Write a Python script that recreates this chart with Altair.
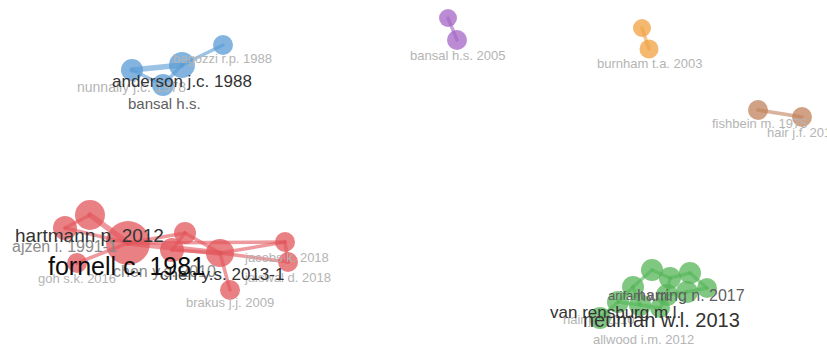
import math
import altair as alt
import pandas as pd

# ---- nodes (layout coordinates, weight, cluster) ----
node_id = ["b1", "b2", "b3", "b4",
           "p1", "p2", "o1", "o2", "w1", "w2",
           "r1", "r2", "r3", "r4", "r5", "r6", "r7", "r8", "r9", "r10",
           "g1", "g2", "g3", "g4", "g5", "g6", "g7", "g8", "g9", "g10", "g11"]
node_x = [223, 182, 132, 163,
          448, 457, 642, 649, 758, 802,
          90, 65, 128, 77, 185, 172, 220, 285, 288, 230,
          652, 670, 690, 707, 633, 618, 600, 667, 687, 660, 640]
node_y = [45, 65, 70, 85,
          18, 40, 28, 49, 110, 117,
          215, 228, 243, 263, 233, 250, 253, 242, 262, 290,
          270, 278, 273, 288, 287, 302, 318, 295, 292, 308, 305]
node_w = [10, 13, 11, 11,
          9, 10, 9, 9.5, 10, 10,
          15, 12, 22, 10, 11, 12, 14, 10, 10, 10,
          11, 11, 11, 10, 11, 11, 11, 11, 11, 10, 11]
node_cluster = ["blue"] * 4 + ["purple"] * 2 + ["orange"] * 2 + ["brown"] * 2 + \
               ["red"] * 10 + ["green"] * 11

# ---- links ----
edge_from = ["b3", "b2", "b3", "b4", "p1", "o1", "w1",
             "r2", "r1", "r2", "r4", "r3", "r5", "r3", "r6", "r7", "r8", "r7", "r7", "r3", "r5",
             "g1", "g2", "g3", "g5", "g5", "g6", "g8", "g2", "g5", "g11", "g10", "g9", "g6"]
edge_to = ["b2", "b1", "b4", "b2", "p2", "o2", "w2",
           "r1", "r3", "r3", "r3", "r5", "r6", "r7", "r7", "r8", "r9", "r9", "r10", "r8", "r7",
           "g2", "g3", "g4", "g1", "g6", "g7", "g9", "g8", "g11", "g10", "g8", "g4", "g11"]
edge_w = [3, 2, 2, 2, 2, 2, 2,
          2, 3, 2, 2, 2, 2, 3, 2, 2, 2, 2, 2, 2, 2,
          2, 2, 2, 2, 2, 2, 2, 2, 2, 2, 2, 2, 2]

# ---- labels ----
label_text = ["bagozzi r.p. 1988", "nunnally j.c. 1978", "bansal h.s. 2005", "burnham t.a. 2003",
              "fishbein m. 1975", "hair j.f. 2010", "goh s.k. 2016", "jacobs k. 2018",
              "jaiswal d. 2018", "brakus j.j. 2009", "hair j.f. 2010", "allwood i.m. 2012",
              "arifani v.m.", "bansal h.s.", "ajzen i. 1991-1", "chen y.s. 2010",
              "harring n. 2017", "anderson j.c. 1988", "chen y.s. 2013-1", "van rensburg m.l.",
              "hartmann p. 2012", "neuman w.l. 2013", "fornell c. 1981"]
label_x = [173, 77, 410, 597,
           712, 767, 38, 245,
           245, 186, 563, 593,
           608, 128, 12, 113,
           637, 112, 160, 550,
           15, 583, 48]
label_y = [63, 92, 60, 68,
           128, 137, 283, 262,
           282, 307, 324, 344,
           300, 109, 252, 277,
           301, 87, 280, 318,
           242, 327, 275]
label_fs = [13, 14, 13, 13,
            13, 13, 13, 13,
            13, 13, 13, 13,
            13, 15, 16, 16,
            16, 17, 17, 17,
            19, 20, 25]
label_shade = ["light", "light", "light", "light",
               "light", "light", "light", "light",
               "light", "light", "light", "light",
               "mid", "mid", "soft", "soft",
               "mid", "dark", "dark", "dark",
               "dark", "dark", "black"]

W, H = 827, 346

nodes = pd.DataFrame({"id": node_id, "x": node_x, "y": node_y,
                      "w": node_w, "cluster": node_cluster})
pos = nodes.set_index("id")
edges = pd.DataFrame({
    "x": [pos.loc[a, "x"] for a in edge_from],
    "y": [pos.loc[a, "y"] for a in edge_from],
    "x2": [pos.loc[b, "x"] for b in edge_to],
    "y2": [pos.loc[b, "y"] for b in edge_to],
    "cluster": [pos.loc[a, "cluster"] for a in edge_from],
    "w": edge_w,
})
labels = pd.DataFrame({"text": label_text, "x": label_x, "y": label_y,
                       "fs": label_fs, "shade": label_shade})

xs = alt.Scale(domain=[0, W], nice=False, zero=False)
ys = alt.Scale(domain=[0, H], nice=False, zero=False, reverse=True)
cl_scale = alt.Scale(domain=["blue", "red", "green", "purple", "orange", "brown"],
                     range=["#5a9bd4", "#e2555b", "#55b558", "#a466c4", "#f0a040", "#c0815b"])

edge_layer = alt.Chart(edges).mark_rule(opacity=0.6, strokeCap="round").encode(
    x=alt.X("x:Q", scale=xs, axis=None),
    y=alt.Y("y:Q", scale=ys, axis=None),
    x2="x2:Q", y2="y2:Q",
    color=alt.Color("cluster:N", scale=cl_scale, legend=None),
    strokeWidth=alt.StrokeWidth("w:Q", scale=alt.Scale(domain=[2, 3], range=[3.5, 5.5]), legend=None),
)

node_layer = alt.Chart(nodes).mark_circle(opacity=0.75).encode(
    x=alt.X("x:Q", scale=xs, axis=None),
    y=alt.Y("y:Q", scale=ys, axis=None),
    color=alt.Color("cluster:N", scale=cl_scale, legend=None),
    size=alt.Size("w:Q", scale=alt.Scale(type="pow", exponent=2, domain=[0, 22],
                                         range=[0, 4 * 22 * 22]), legend=None),
)

text_layer = alt.Chart(labels).mark_text(align="left", baseline="alphabetic",
                                         font="Liberation Sans").encode(
    x=alt.X("x:Q", scale=xs, axis=None),
    y=alt.Y("y:Q", scale=ys, axis=None),
    text="text:N",
    size=alt.Size("fs:Q", scale=alt.Scale(domain=[10, 25], range=[10, 25]), legend=None),
    color=alt.Color("shade:N", scale=alt.Scale(domain=["light", "soft", "mid", "dark", "black"],
                                               range=["#b4b4b4", "#8a8a8a", "#5e5e5e", "#333333", "#0d0d0d"]),
                    legend=None),
)

chart = alt.layer(edge_layer, node_layer, text_layer).resolve_scale(
    color="independent", size="independent"
).properties(
    width=W, height=H, padding=0, autosize=alt.AutoSizeParams(type="none"),
    background="white"
).configure_view(stroke=None)

chart.save("out.html", embed_options={"renderer": "svg", "actions": False})
